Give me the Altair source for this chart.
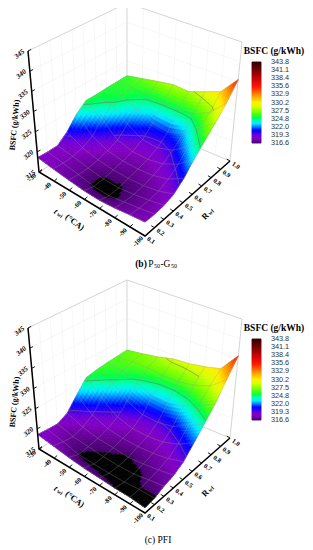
import altair as alt

W, H = 297, 537
TI = [-30, -40, -50, -60, -70, -80, -90, -100]
RW = [0.1, 0.2, 0.3, 0.4, 0.5, 0.6, 0.7, 0.8, 0.9, 1.0]
ZT = [315, 320, 325, 330, 335, 340, 345]
CB = [343.8, 341.1, 338.4, 335.6, 332.9, 330.2, 327.5, 324.8, 322.0, 319.3, 316.6]

Z_B = [
    [318.6, 318.0, 317.5, 317.1, 317.0, 317.3, 317.8, 318.2],
    [318.5, 317.9, 317.2, 316.45, 316.3, 316.9, 317.5, 318.1],
    [318.6, 318.0, 317.2, 316.55, 316.45, 316.9, 317.5, 318.3],
    [320.5, 318.6, 317.6, 317.1, 317.0, 317.2, 317.8, 319.0],
    [323.5, 320.0, 318.2, 317.6, 317.5, 317.8, 318.8, 320.8],
    [325.6, 322.5, 319.3, 318.2, 318.1, 318.8, 320.5, 323.5],
    [325.6, 324.8, 321.5, 319.5, 319.2, 320.3, 323.0, 326.0],
    [325.8, 325.6, 323.8, 321.8, 321.3, 322.5, 325.5, 328.5],
    [325.9, 326.0, 325.3, 325.3, 325.4, 325.8, 327.6, 331.5],
    [326.0, 326.8, 327.6, 328.3, 328.0, 329.5, 331.0, 335.5],
]
Z_C = [
    [318.6, 318.0, 317.4, 317.0, 316.8, 316.6, 316.55, 316.2],
    [318.4, 317.5, 316.5, 316.3, 316.2, 316.2, 316.5, 316.5],
    [318.3, 317.2, 316.8, 316.4, 316.2, 316.3, 316.9, 317.4],
    [319.5, 318.0, 317.2, 316.9, 316.5, 316.9, 317.4, 318.0],
    [322.5, 319.5, 318.0, 317.5, 317.4, 317.6, 318.2, 319.3],
    [325.5, 322.0, 319.3, 318.2, 318.1, 318.5, 319.8, 321.8],
    [326.0, 324.8, 321.5, 320.0, 319.8, 320.5, 322.5, 324.5],
    [326.3, 326.0, 324.5, 323.0, 322.8, 323.8, 325.5, 327.5],
    [326.5, 326.8, 326.8, 326.5, 326.5, 327.2, 328.5, 331.5],
    [326.7, 327.3, 328.0, 329.0, 329.3, 330.0, 331.0, 335.7],
]
STOPS = [(316.6, (66, 0, 105)), (317.3, (100, 0, 150)), (318.3, (130, 0, 195)), (319.3, (110, 0, 215)),
         (320.3, (40, 0, 245)), (321.0, (0, 0, 255)), (322.0, (0, 110, 255)), (323.2, (0, 235, 255)),
         (324.2, (0, 255, 190)), (325.3, (0, 255, 70)), (327.0, (110, 255, 0)), (329.0, (215, 255, 0)),
         (330.4, (255, 240, 0)), (332.9, (255, 140, 0)), (335.6, (255, 20, 0)), (338.4, (200, 0, 0)),
         (341.1, (120, 0, 0)), (343.8, (50, 0, 0))]
C000 = (39, 172); C100 = (145, 236); C110 = (230, 161); C010 = (127, 118)
C001 = (28, 51); C101 = (145, 105); C111 = (242, 42); C011 = (127, 3)


def col(v, black=True):
    if black and v < 316.6:
        return "#000000"
    v = max(316.6, min(343.8, v))
    for (a, ca), (b, cb) in zip(STOPS, STOPS[1:]):
        if v <= b:
            t = (v - a) / (b - a)
            c = [round(p + (q - p) * t) for p, q in zip(ca, cb)]
            return "#%02x%02x%02x" % tuple(c)
    return "#320000"


def proj(ti, r, z, dy):
    s = (ti + 30) / -70
    t = (r - 0.1) / 0.9
    u = (z - 315) / 30
    out = []
    for k in range(2):
        a = (C000[k] * (1 - s) + C100[k] * s) * (1 - t) + (C010[k] * (1 - s) + C110[k] * s) * t
        b = (C001[k] * (1 - s) + C101[k] * s) * (1 - t) + (C011[k] * (1 - s) + C111[k] * s) * t
        out.append(a * (1 - u) + b * u)
    return [round(out[0] - 8, 2), round(out[1] + dy - 8, 2)]


def poly(pts, c):
    return {"type": "Feature", "properties": {"c": c},
            "geometry": {"type": "Polygon", "coordinates": [pts + [pts[0]]]}}


def line(pts):
    return {"type": "Feature", "properties": {},
            "geometry": {"type": "LineString", "coordinates": pts}}


def filled(feats):
    return alt.Chart(alt.Data(values=feats)).mark_geoshape(strokeWidth=0.8, opacity=1).encode(
        fill=alt.Color("properties.c:N", scale=None),
        stroke=alt.Color("properties.c:N", scale=None)).project(type="identity", scale=1, translate=[0, 0])


def lines(feats, color, width, op=1.0):
    return alt.Chart(alt.Data(values=feats)).mark_geoshape(
        filled=False, stroke=color, strokeWidth=width, strokeOpacity=op).project(
        type="identity", scale=1, translate=[0, 0])


def bil(Z, i, j, a, b):
    return (Z[j][i] * (1 - a) + Z[j][i + 1] * a) * (1 - b) + (Z[j + 1][i] * (1 - a) + Z[j + 1][i + 1] * a) * b


def surface(Z, dy, n=6):
    feats = []
    for i in range(7):
        for j in range(8, -1, -1):
            for p in range(n):
                for q in range(n - 1, -1, -1):
                    a0, a1, b0, b1 = p / n, (p + 1) / n, q / n, (q + 1) / n
                    pts = []
                    for a, b in [(a0, b0), (a1, b0), (a1, b1), (a0, b1)]:
                        ti = TI[i] + (TI[i + 1] - TI[i]) * a
                        r = RW[j] + 0.1 * b
                        pts.append(proj(ti, r, bil(Z, i, j, a, b), dy))
                    feats.append(poly(pts, col(bil(Z, i, j, (a0 + a1) / 2, (b0 + b1) / 2))))
    return feats


def grid(Z, dy):
    f = []
    for i, ti in enumerate(TI):
        f.append(line([proj(ti, r, Z[j][i], dy) for j, r in enumerate(RW)]))
    for j, r in enumerate(RW):
        f.append(line([proj(ti, r, Z[j][i], dy) for i, ti in enumerate(TI)]))
    return f


def contours(Z, dy, levels):
    f = []
    for lv in levels:
        for i in range(7):
            for j in range(9):
                c = [(0, 0), (1, 0), (1, 1), (0, 1)]
                v = [Z[j + b][i + a] for a, b in c]
                hits = []
                for k in range(4):
                    v0, v1 = v[k], v[(k + 1) % 4]
                    if (v0 - lv) * (v1 - lv) < 0:
                        t = (lv - v0) / (v1 - v0)
                        a = c[k][0] + (c[(k + 1) % 4][0] - c[k][0]) * t
                        b = c[k][1] + (c[(k + 1) % 4][1] - c[k][1]) * t
                        hits.append(proj(TI[i] + (TI[i + 1] - TI[i]) * a, RW[j] + 0.1 * b, lv, dy))
                for m in range(0, len(hits) - 1, 2):
                    f.append(line([hits[m], hits[m + 1]]))
    return f


def text_layer(rows, font, weight="normal", style="normal"):
    return alt.Chart(alt.Data(values=rows)).mark_text(
        font=font, fontWeight=weight, fontStyle=style, align="center", baseline="middle").encode(
        x=alt.X("x:Q", scale=alt.Scale(domain=[0, W], nice=False, zero=False), axis=None),
        y=alt.Y("y:Q", scale=alt.Scale(domain=[H, 0], nice=False, zero=False), axis=None),
        text="t:N",
        size=alt.Size("s:Q", scale=None),
        angle=alt.Angle("a:Q", scale=None),
        color=alt.Color("c:N", scale=None))


def tx(x, y, t, s, a=0, c="#000000"):
    return {"x": x - 8, "y": y - 8, "t": t, "s": s, "a": a % 360, "c": c}


layers = []
serif_b, serif_i, serif_n, sans = [], [], [], []
walls, wallgrid, axes_, ticks = [], [], [], []
bars = []

for dy, Z, cap in [(0, Z_B, "b"), (277, Z_C, "c")]:
    for pts in [[(-30, .1, 315), (-30, .1, 345), (-30, 1, 345), (-100, 1, 345), (-100, 1, 315)],
                [(-30, 1, 315), (-30, 1, 345)],
                [(-30, 1, 315), (-100, 1, 315)],
                [(-30, 1, 315), (-30, .1, 315)]]:
        walls.append(line([proj(*p, dy) for p in pts]))
    for z in ZT[1:-1]:
        wallgrid.append(line([proj(-30, .1, z, dy), proj(-30, 1, z, dy), proj(-100, 1, z, dy)]))
    for ti in TI[1:-1]:
        wallgrid.append(line([proj(ti, 1, 315, dy), proj(ti, 1, 345, dy)]))
    for r in RW[1:-1]:
        wallgrid.append(line([proj(-30, r, 315, dy), proj(-30, r, 345, dy)]))
    axes_.append(line([proj(-30, .1, 345, dy), proj(-30, .1, 315, dy), proj(-100, .1, 315, dy), proj(-100, 1, 315, dy)]))
    for z in ZT:
        a = proj(-30, .1, z, dy)
        ticks.append(line([a, [a[0] + 3.2, a[1] - 1.6]]))
        serif_i.append(tx(a[0] + 8 - 8.5, a[1] + 8 + 3, str(z), 7, -40))
    for ti in TI:
        a = proj(ti, .1, 315, dy)
        ticks.append(line([a, [a[0] + 3, a[1] - 2.6]]))
        serif_b.append(tx(a[0] + 8 - 7, a[1] + 8 + 5.5, str(ti), 6.5, -45))
    for r in RW:
        a = proj(-100, r, 315, dy)
        ticks.append(line([a, [a[0] - 3.2, a[1] - 2.0]]))
        serif_b.append(tx(a[0] + 8 + 6, a[1] + 8 + 4.5, "%.1f" % r, 6.5, 35))
    serif_b.append(tx(15, 125 + dy, "BSFC (g/kWh)", 8, -85))
    serif_i.append(tx(56, 211 + dy, "t", 8.5, 37))
    serif_b.append(tx(60, 215 + dy, "wi", 5.5, 37))
    serif_b.append(tx(75, 222 + dy, "(°CA)", 8.5, 37))
    serif_b.append(tx(205, 216 + dy, "R", 8.5, -45))
    serif_b.append(tx(211, 212 + dy, "wf", 5.5, -45))
    top, bot = 62 + dy, 143 + dy
    steps = [316.6 + k * 27.2 / 80 for k in range(80)]
    for v in steps:
        y0 = bot + (top - bot) * (v - 316.6) / 27.2 - 8
        y1 = bot + (top - bot) * (v + 0.34 - 316.6) / 27.2 - 8
        bars.append(poly([[244, y0], [253, y0], [253, y1], [244, y1]], col(v + 0.17, False)))
    walls.append(line([[244, top - 8], [253, top - 8], [253, bot - 8], [244, bot - 8], [244, top - 8]]))
    for k, v in enumerate(CB):
        sans.append(tx(280, top + (bot - top) * k / 10, "%.1f" % v, 7.3, c="#333333"))
    serif_b.append(tx(274, 51 + dy, "BSFC (g/kWh)", 9.5))
    layers.append(filled(surface(Z, dy)))
    layers.append(lines(grid(Z, dy), "#9a9a9a", 0.6, 0.5))
    layers.append(lines(contours(Z, dy, [320, 325, 328.5]), "#707070", 0.8, 0.7))

serif_b.append(tx(141, 264, "(b)", 9.5))
serif_n.extend([tx(151, 264, "P", 9.5), tx(157, 265.5, "50", 6), tx(162, 264, "-", 9.5),
                tx(167, 264, "G", 9.5), tx(174, 265.5, "50", 6)])
serif_n.append(tx(158, 540, "(c) PFI", 9.5))

base = [lines(walls, "#c9c9c9", 0.8), lines(wallgrid, "#efefef", 0.5), filled(bars)]
top_l = [lines(axes_, "#000000", 1.5), lines(ticks, "#000000", 0.9),
         text_layer(serif_b, "Liberation Serif", "bold"),
         text_layer(serif_i, "Liberation Serif", "bold", "italic"),
         text_layer(serif_n, "Liberation Serif"),
         text_layer(sans, "Liberation Sans")]

chart = alt.layer(*base, *layers, *top_l).resolve_scale(x="shared", y="shared").properties(
    width=W, height=H, padding=0, autosize="none").configure_view(stroke=None)
chart.save("out.html", embed_options={"renderer": "svg", "actions": False})
